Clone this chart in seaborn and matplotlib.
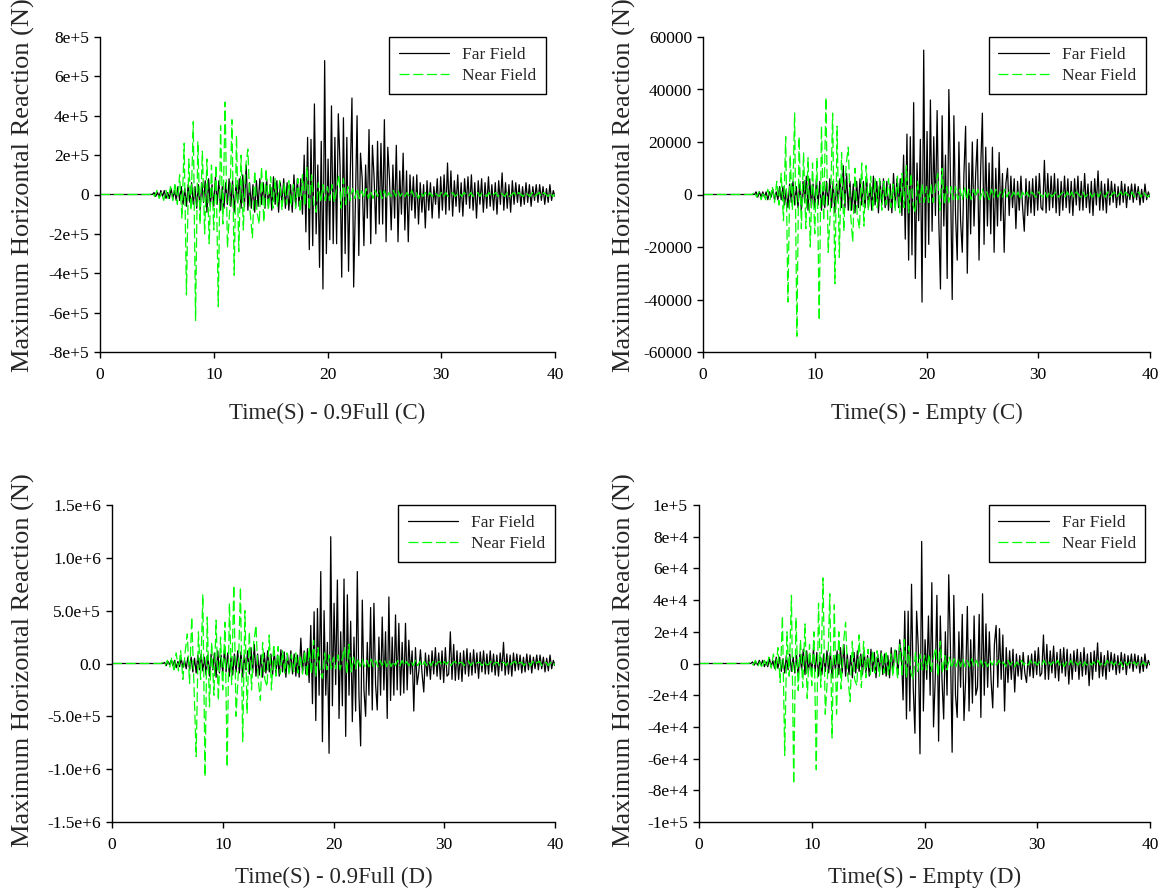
import numpy as np
import matplotlib
matplotlib.use("Agg")
import matplotlib.pyplot as plt
import seaborn as sns

# ---------------- data ----------------
# Near field sampled every 0.2 s from 4.0 s to 40.0 s (first value is t = 0)
# Far field sampled every 0.15 s from 4.0 s to 40.0 s (first value is t = 0)
T_NEAR = np.concatenate([[0.0], np.linspace(4.0, 40.0, 181)])
T_FAR = np.concatenate([[0.0], np.linspace(4.0, 40.0, 241)])

SERIES_NAMES = ["Far Field", "Near Field"]
PANEL_XLABELS = ["Time(S) - 0.9Full (C)", "Time(S) - Empty (C)",
                 "Time(S) - 0.9Full (D)", "Time(S) - Empty (D)"]
YLABEL = "Maximum Horizontal Reaction (N)"
X_TICKS = [0, 10, 20, 30, 40]

# ---- panel (C) 0.9 Full, values in units of 1e4 N ----
NEAR_C_FULL = [0,
    0, 0, 0, 1, -1,
    2, -2, 1, -3, 2,
    -2, 4, -3, 6, -5,
    10, -12, 26, -51, 18,
    -8, 37, -64, 27, -15,
    22, -20, 18, -25, 15,
    -18, 15, -57, 35, -15,
    47, -27, -8, 38, -41,
    30, -29, 20, -18, 14,
    23, -9, -22, 12, -9,
    -15, 14, -14, 13, -8,
    9, -7, 8, -6, 7,
    -8, 6, -5, 7, -6,
    5, -7, 8, -9, 10,
    -6, 14, -8, 10, -5,
    -9, 6, -4, 5, -3,
    4, -3, 5, -4, 3,
    10, -7, 8, -5, 4,
    -3, 3, -2, 3, -2,
    2, -2, 3, -2, 2,
    -2, 2, -1, 2, -2,
    2, -2, 1, -1, 2,
    -1, 2, -1, 1, -1,
    1, -1, 2, -1, 1,
    -2, 1, -1, 1, -1,
    1, -1, 1, 0, -1,
    1, -1, 1, -1, 0,
    1, -1, 0, 1, -1,
    1, 0, -1, 1, -1,
    0, 1, -1, 1, 0,
    -1, 1, -1, 0, 1,
    -1, 1, 0, -1, 1,
    -1, 0, 1, -1, 1,
    0, -1, 1, 0, -1,
    1, -1, 0, 1, -1,
    1, 0, -1, 1, -1,
    0]
FAR_C_FULL = [0,
    0, 0, 0, 0, 0, 1, -1, 1, -1, 2,
    -1, 2, -2, 1, -2, 3, -2, 2, -3, 4,
    -3, 4, -5, 3, -6, 5, -4, 6, -5, 4,
    -7, 5, -8, 6, -4, 7, -9, 8, -6, 5,
    -6, 9, -5, 7, -8, 4, -7, 6, -5, 8,
    -6, 7, -9, 5, -4, 8, -7, 10, -6, 15,
    -8, 6, -7, 5, -9, 7, -6, 8, -5, 6,
    -7, 8, -6, 5, -8, 9, -5, 7, -9, 6,
    -5, 8, -7, 6, -8, 5, -9, 10, -6, 8,
    -6, 8, -10, 20, -19, 29, -28, 28, -26, 46,
    -20, 15, -37, 27, -48, 68, -30, 18, -23, 45,
    -25, 29, -25, 41, 15, -42, 39, -30, 29, -39,
    10, 49, -47, -5, 40, -31, 21, 8, -26, 15,
    -12, 33, -25, 25, 8, -20, 27, -15, 26, -15,
    38, -24, 24, 8, -18, 15, -12, 25, -24, 12,
    -10, 21, -18, 12, -24, 10, -8, 9, -12, 10,
    -15, 6, -9, 5, -17, 7, -8, 6, -12, 4,
    -5, 8, -12, 9, -8, 10, -10, 16, -8, 12,
    -11, 7, -6, 10, -9, 6, -11, 8, -5, 9,
    -7, 10, -8, 6, -12, 7, -5, 8, -9, 6,
    -7, 9, -6, 5, -8, 6, -10, 7, -5, 11,
    -8, 6, -7, 5, -9, 7, -5, 6, -4, 5,
    -6, 4, -5, 6, -4, 5, -6, 4, -3, 5,
    -4, 5, -3, 4, -5, 3, -4, 5, -3, 2,
    -1]

# ---- panel (C) Empty, values in units of 1e3 N ----
NEAR_C_EMPTY = [0,
    0, 0, 0, 1, -1,
    1, -2, 1, -2, 2,
    -2, 3, -3, 5, -4,
    8, -10, 22, -41, 15,
    -6, 31, -54, 22, -13,
    16, -13, 14, -20, 12,
    -15, 14, -48, 26, -10,
    37, -22, -6, 31, -34,
    26, -24, 16, -14, 11,
    18, -7, -18, 10, -8,
    -13, 12, -12, 11, -6,
    7, -6, 6, -5, 6,
    -6, 5, -4, 6, -5,
    4, -6, 7, -7, 8,
    -5, 11, -7, 8, -4,
    -7, 5, -3, 4, -3,
    3, -3, 4, -3, 3,
    8, -6, 10, -4, 3,
    -3, 3, -2, 3, -2,
    2, -2, 3, -2, 2,
    -2, 2, -1, 2, -2,
    2, -1, 1, -2, 2,
    -1, 2, -1, 1, -1,
    2, -1, 1, -1, 1,
    -1, 1, -2, 1, -1,
    1, -1, 1, 0, -1,
    1, 0, -1, 1, -1,
    1, -1, 0, 1, -1,
    0, 1, -1, 1, -1,
    1, -1, 1, 0, -1,
    1, -1, 0, 1, -1,
    0, 1, -1, 1, 0,
    -1, 1, -1, 0, 1,
    -1, 0, 1, -1, 1,
    0, -1, 1, -1, 0,
    1, -1, 1, 0, -1,
    0]
FAR_C_EMPTY = [0,
    0, 0, 0, 0, 0, 1, -1, 1, -1, 1,
    -1, 1, -2, 1, -1, 2, -2, 1, -2, 3,
    -2, 3, -4, 2, -5, 4, -3, 5, -4, 3,
    -5, 4, -6, 5, -3, 7, -6, 6, -5, 4,
    -5, 6, -4, 5, -6, 3, -5, 5, -4, 6,
    -5, 5, -7, 4, -3, 6, -5, 11, -5, 8,
    -6, 5, -6, 4, -7, 5, -5, 6, -4, 5,
    -5, 6, -5, 4, -6, 7, -4, 5, -7, 5,
    -4, 6, -5, 5, -6, 4, -7, 8, -5, 6,
    -5, 6, -8, 15, -17, 23, -25, 22, -23, 35,
    -32, 12, -10, 21, -41, 55, -24, 24, -19, 36,
    -14, 22, -8, 32, -10, -36, 30, -12, 15, -32,
    40, 5, -40, 30, -8, -25, 20, -10, -22, 8,
    26, -30, 12, -15, 20, -12, 8, 21, -25, 10,
    31, -19, 18, -12, 12, -15, 18, -22, 10, -12,
    16, -10, 8, -22, 4, 10, -8, 7, -5, 6,
    -13, 5, -6, 7, -5, -14, 6, -8, 5, -7,
    6, -8, 7, -6, 8, -5, -6, 13, -7, 8,
    -6, 7, -5, 8, -7, 6, -8, 5, -6, 7,
    -5, 6, -7, 5, -8, 6, -4, 7, -6, 5,
    -6, 8, -5, 4, -7, 5, -8, 6, -4, 9,
    -6, 5, -6, 4, -7, 6, -4, 5, -3, 4,
    -5, 3, -4, 5, -3, 4, -5, 3, -2, 4,
    -3, 4, -2, 3, -4, 2, -3, 4, -2, 1,
    -1]

# ---- panel (D) 0.9 Full, values in units of 1e4 N ----
NEAR_D_FULL = [0,
    0, 0, 0, 1, -2,
    3, -4, 6, -8, 10,
    -7, 12, -15, 10, 28,
    -19, 44, -20, -88, 30,
    -15, 65, -107, 44, -41,
    20, -30, 41, -35, 25,
    -25, 39, -98, 57, -20,
    74, -50, -10, 72, -74,
    50, -47, 30, -25, 20,
    36, -15, -35, 20, -15,
    -22, 27, -25, 18, -12,
    16, -10, 12, -9, 10,
    -11, 9, -8, 10, -9,
    8, -10, 12, -13, 15,
    -10, 22, -12, 15, -8,
    -14, 10, -6, 8, -5,
    6, -5, 8, -6, 5,
    15, -10, 18, -8, 6,
    -5, 5, -3, 4, -3,
    3, -3, 4, -3, 3,
    -3, 3, -2, 3, -3,
    3, -3, 2, -2, 3,
    -2, 3, -2, 2, -2,
    2, -2, 3, -2, 2,
    -3, 2, -2, 2, -2,
    2, -2, 1, 2, -2,
    2, -1, 2, -2, 1,
    2, -2, 1, 1, -2,
    1, 2, -2, 1, -1,
    1, 1, -2, 2, -1,
    -1, 2, -2, 1, 1,
    -2, 1, 1, -2, 2,
    -1, 1, 2, -2, 1,
    1, -2, 1, 1, -2,
    2, -1, 1, 2, -2,
    1, 1, -2, 1, -2,
    0]
FAR_D_FULL = [0,
    0, 0, 0, 0, 0, 1, -2, 2, -1, 3,
    -2, 3, -4, 2, -3, 5, -4, 3, -5, 6,
    -5, 6, -8, 5, -9, 8, -6, 9, -7, 6,
    -11, 8, -12, 9, -6, 10, -13, 12, -9, 8,
    -9, 13, -8, 10, -12, 6, -11, 9, -8, 12,
    -9, 11, -13, 8, -6, 12, -10, 15, -9, 18,
    -12, 9, -11, 8, -13, 10, -9, 12, -8, 9,
    -11, 12, -9, 8, -12, 13, -8, 11, -13, 9,
    -8, 12, -10, 9, -12, 8, -13, 24, -9, 12,
    -10, 14, -18, 36, -38, 49, -54, 52, -30, 87,
    -74, 50, -30, 20, -85, 120, -40, 57, -20, 79,
    -52, 30, -40, 80, -69, 65, -30, 40, -55, 25,
    -45, 87, -30, -78, 60, -25, -50, 20, -30, 53,
    -44, 57, -20, -44, 25, -30, 44, -25, 30, -52,
    63, -35, 25, -30, 46, -25, 38, -30, 20, -28,
    38, -25, 22, -10, 12, -45, 15, -20, -8, 13,
    -10, -27, 10, -12, 8, -15, 12, -10, 15, -12,
    10, -15, 12, -18, 15, -12, -10, 30, -15, 18,
    -16, 12, -15, 10, -17, 12, -10, 14, -12, 10,
    -11, 13, -9, 10, -14, 11, -8, 12, -10, 9,
    -10, 12, -8, 9, -11, 8, -12, 10, -7, 20,
    -11, 9, -10, 8, -12, 10, -7, 9, -6, 8,
    -9, 6, -8, 9, -6, 8, -9, 6, -5, 8,
    -6, 8, -5, 6, -8, 5, -7, 8, -5, 3,
    -2]

# ---- panel (D) Empty, values in units of 1e3 N ----
NEAR_D_EMPTY = [0,
    0, 0, 0, 1, -1,
    2, -2, 1, -3, 2,
    -2, 4, -3, 6, -5,
    10, -12, 30, -58, 20,
    -8, 43, -76, 29, -17,
    15, -15, 25, -22, 12,
    -14, 20, -67, 38, -15,
    54, -32, -8, 44, -47,
    37, -32, 20, -16, 12,
    26, -8, -24, 14, -10,
    -14, 18, -15, 14, -9,
    9, -7, 8, -6, 8,
    -8, 7, -6, 8, -7,
    6, -8, 9, -10, 12,
    -7, 15, -9, 11, -6,
    -10, 7, -5, 6, -4,
    5, -4, 6, -5, 4,
    10, -8, 14, -6, 5,
    -4, 4, -3, 3, -2,
    3, -2, 3, -2, 2,
    -2, 3, -2, 2, -2,
    2, -2, 1, -2, 2,
    -1, 2, -1, 2, -1,
    1, -2, 2, -1, 1,
    -2, 1, -1, 2, -1,
    1, -1, 2, -1, 1,
    -1, 1, -1, 2, -1,
    1, -1, 1, -1, 2,
    -1, 1, -2, 1, -1,
    2, -1, 1, -1, 1,
    -2, 1, -1, 1, -1,
    1, -1, 2, -1, 1,
    -1, 2, -1, 1, -1,
    1, -1, 1, -2, 1,
    -1, 1, -1, 1, -1,
    1, -1, 1, -1, 1,
    0]
FAR_D_EMPTY = [0,
    0, 0, 0, 0, 0, 1, -1, 1, -1, 2,
    -1, 2, -2, 1, -2, 3, -2, 2, -3, 4,
    -3, 4, -5, 3, -6, 5, -4, 6, -5, 4,
    -6, 5, -8, 6, -4, 9, -7, 8, -6, 5,
    -6, 9, -5, 7, -8, 4, -7, 6, -5, 8,
    -6, 7, -9, 5, -4, 8, -7, 10, -6, 12,
    -8, 6, -7, 5, -9, 7, -6, 8, -5, 6,
    -7, 8, -6, 5, -8, 9, -5, 7, -9, 6,
    -5, 8, -7, 6, -8, 5, -9, 10, -6, 8,
    8, -7, 15, 5, -23, 33, -35, 33, -30, 50,
    -15, -44, 33, 10, -57, 77, -30, 15, -10, 30,
    -20, 51, -40, -10, 43, -49, 30, -10, -35, 20,
    -20, 56, 10, -56, 43, -20, -34, 20, -15, 31,
    -36, -10, 36, -30, 15, -25, 30, -20, -15, 31,
    -34, 44, -20, 25, -15, 20, -10, -28, 12, 24,
    -15, 22, -10, 18, -30, 10, -12, 8, -10, 9,
    -18, 6, -8, 5, -10, 7, -6, -12, 5, -8,
    6, -9, 8, -7, 10, -8, -6, 18, -10, 12,
    -10, 8, -6, 11, -9, 7, -11, 9, -6, 10,
    -8, 9, -13, 6, -10, 8, -5, 9, -10, 7,
    -8, 10, -7, 6, -14, 7, -10, 8, -5, 13,
    -9, 7, -8, 5, -10, 8, -5, 7, -4, 6,
    -7, 5, -6, 7, -4, 6, -7, 5, -3, 6,
    -5, 6, -3, 5, -6, 4, -5, 6, -3, 2,
    -1]

UNITS = [1e4, 1e3, 1e4, 1e3]

Y_TICKS = [
    [-8e5, -6e5, -4e5, -2e5, 0, 2e5, 4e5, 6e5, 8e5],
    [-60000, -40000, -20000, 0, 20000, 40000, 60000],
    [-1.5e6, -1.0e6, -5e5, 0, 5e5, 1.0e6, 1.5e6],
    [-1e5, -8e4, -6e4, -4e4, -2e4, 0, 2e4, 4e4, 6e4, 8e4, 1e5],
]
Y_TICK_LABELS = [
    ["-8e+5", "-6e+5", "-4e+5", "-2e+5", "0", "2e+5", "4e+5", "6e+5", "8e+5"],
    ["-60000", "-40000", "-20000", "0", "20000", "40000", "60000"],
    ["-1.5e+6", "-1.0e+6", "-5.0e+5", "0.0", "5.0e+5", "1.0e+6", "1.5e+6"],
    ["-1e+5", "-8e+4", "-6e+4", "-4e+4", "-2e+4", "0", "2e+4", "4e+4", "6e+4", "8e+4", "1e+5"],
]

FAR_DATA = [FAR_C_FULL, FAR_C_EMPTY, FAR_D_FULL, FAR_D_EMPTY]
NEAR_DATA = [NEAR_C_FULL, NEAR_C_EMPTY, NEAR_D_FULL, NEAR_D_EMPTY]

# ---------------- styling ----------------
sns.set_theme(style="ticks")
plt.rcParams["font.family"] = ["Liberation Serif", "DejaVu Serif"]
plt.rcParams["axes.linewidth"] = 1.0
plt.rcParams["xtick.major.size"] = 4
plt.rcParams["ytick.major.size"] = 4
plt.rcParams["xtick.major.width"] = 1.0
plt.rcParams["ytick.major.width"] = 1.0
plt.rcParams["xtick.color"] = "black"
plt.rcParams["ytick.color"] = "black"
plt.rcParams["axes.edgecolor"] = "black"

W, H = 1159, 891
fig = plt.figure(figsize=(W / 100, H / 100), dpi=100)

# axes boxes in pixels: (left, right, top, bottom)
BOXES = [(100, 555, 37, 352), (703, 1150, 37, 352),
         (112, 555, 505, 822), (699, 1150, 505, 822)]
YLABEL_X = [35, 636, 35, 636]
YLABEL_YFRAC = [0.53, 0.53, 0.51, 0.51]
LEG_ANCHOR_X = [0.98, 0.99, 1.0, 0.99]
XLABEL_PAD = [14, 14, 10, 10]

for i in range(4):
    l, r, t, b = BOXES[i]
    ax = fig.add_axes([l / W, 1 - b / H, (r - l) / W, (b - t) / H])
    far = np.asarray(FAR_DATA[i], dtype=float) * UNITS[i]
    near = np.asarray(NEAR_DATA[i], dtype=float) * UNITS[i]
    sns.lineplot(x=T_FAR, y=far, ax=ax, color="black", lw=0.9,
                 estimator=None, sort=False, label=SERIES_NAMES[0])
    sns.lineplot(x=T_NEAR, y=near, ax=ax, color="#00ff00", lw=0.9,
                 estimator=None, sort=False, label=SERIES_NAMES[1],
                 linestyle=(0, (8, 3)))
    ax.set_xlim(0, 40)
    ax.set_ylim(Y_TICKS[i][0], Y_TICKS[i][-1])
    ax.set_xticks(X_TICKS)
    ax.set_xticklabels([str(v) for v in X_TICKS], fontsize=12.5)
    ax.set_yticks(Y_TICKS[i])
    ax.set_yticklabels(Y_TICK_LABELS[i], fontsize=12.5)
    ax.tick_params(axis="y", direction="out", pad=4)
    ax.tick_params(axis="x", direction="out", pad=7)
    sns.despine(ax=ax)
    ax.set_xlabel(PANEL_XLABELS[i], fontsize=16.5, labelpad=XLABEL_PAD[i])
    ax.set_ylabel(YLABEL, fontsize=19)
    ax.yaxis.set_label_coords((YLABEL_X[i] - l) / (r - l), YLABEL_YFRAC[i])
    leg = ax.legend(loc="upper right", bbox_to_anchor=(LEG_ANCHOR_X[i], 1.0),
                    borderaxespad=0.0, frameon=True, fancybox=False,
                    edgecolor="black", framealpha=1.0, fontsize=12.5,
                    handlelength=2.9, handletextpad=0.75, labelspacing=0.3,
                    borderpad=0.55)
    leg.get_frame().set_linewidth(1.0)

fig.savefig("out.png", dpi=100)
